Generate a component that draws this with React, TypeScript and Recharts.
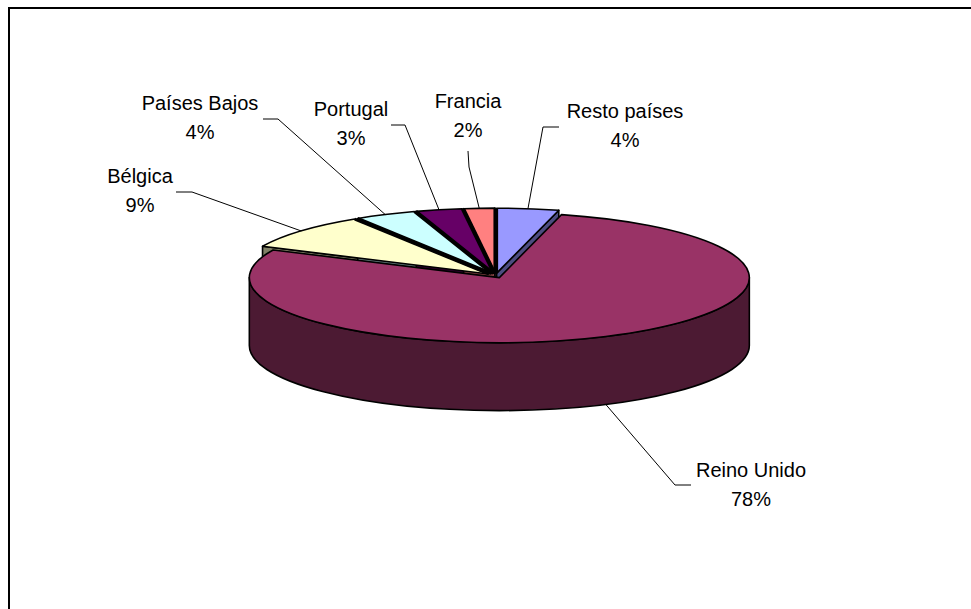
import { PieChart, Pie, Cell } from 'recharts'

// back slices first, Reino Unido last so its rim stays in front
const paises = ['Bélgica', 'Países Bajos', 'Portugal', 'Francia', 'Resto países', 'Reino Unido']
const porcentajes = [9, 4, 3, 2, 4, 78]
const coloresTapa = ['#ffffcc', '#ccffff', '#660066', '#ff8080', '#9999ff', '#993366']
const coloresLado = ['#808066', '#668080', '#330033', '#804040', '#4c4c80', '#4c1a33']

const data = paises.map((name, i) => ({ name, value: porcentajes[i], lado: coloresLado[i] }))

// label text centre + leader elbow, placed by hand like the original
const etiquetas: Record<string, { x: number; y: number; codo: [number, number]; fin: [number, number] }> = {
  'Resto países': { x: 625, y: 118, codo: [543, 127], fin: [559, 127] },
  'Reino Unido': { x: 751, y: 477, codo: [675, 485], fin: [691, 485] },
  'Bélgica': { x: 140, y: 183, codo: [192, 192], fin: [176, 192] },
  'Países Bajos': { x: 200, y: 110, codo: [278, 119], fin: [263, 119] },
  'Portugal': { x: 351, y: 116, codo: [405, 125], fin: [391, 125] },
  'Francia': { x: 468, y: 108, codo: [469, 167], fin: [468, 151] },
}

const CX = 495.5
const CY = 275.5
const RADIO = 250
const APLASTE = 0.26
const ALTO = 68
const SEPARA = 9
const INICIO = 154.8

const rad = (a: number) => (a * Math.PI) / 180

// recharts angle -> point on the flattened disc
function punto(cx: number, cy: number, r: number, ang: number, mid: number): [number, number] {
  const dx = SEPARA * Math.cos(rad(mid))
  const dy = -SEPARA * APLASTE * Math.sin(rad(mid))
  return [cx + dx + r * Math.cos(rad(ang)), cy + dy - r * APLASTE * Math.sin(rad(ang))]
}

function Tapa(props: any) {
  const { cx, cy, outerRadius: r, startAngle, endAngle, midAngle, fill, payload } = props
  const a = punto(cx, cy, 0, 0, midAngle)
  const p1 = punto(cx, cy, r, startAngle, midAngle)
  const p2 = punto(cx, cy, r, endAngle, midAngle)
  const grande = Math.abs(endAngle - startAngle) > 180 ? 1 : 0
  const d = `M${a[0]},${a[1]} L${p1[0]},${p1[1]} A${r},${r * APLASTE} 0 ${grande} 1 ${p2[0]},${p2[1]} Z`
  // the dividers between the small slices are heavier than the rim
  const idx = paises.indexOf(payload.name)
  const ultimoChico = paises.length - 2
  return (
    <g>
      <path d={d} fill={fill} stroke="#000" strokeWidth={1.6} strokeLinejoin="round" />
      {idx <= ultimoChico && idx > 0 && (
        <line x1={a[0]} y1={a[1]} x2={p1[0]} y2={p1[1]} stroke="#000" strokeWidth={3} />
      )}
      {idx < ultimoChico && <line x1={a[0]} y1={a[1]} x2={p2[0]} y2={p2[1]} stroke="#000" strokeWidth={3} />}
    </g>
  )
}

function Lado(props: any) {
  const { cx, cy, outerRadius: r, startAngle, endAngle, midAngle, payload } = props
  const color = payload.lado
  const a = punto(cx, cy, 0, 0, midAngle)
  const caras: string[] = []
  const cara = (ang: number) => {
    const p = punto(cx, cy, r, ang, midAngle)
    caras.push(`M${a[0]},${a[1]} L${p[0]},${p[1]} L${p[0]},${p[1] + ALTO} L${a[0]},${a[1] + ALTO} Z`)
  }
  // only faces turned towards the viewer
  if (Math.sin(rad(startAngle)) > 0.01 && Math.cos(rad(startAngle)) < 0) cara(startAngle)
  if (Math.sin(rad(endAngle)) > 0.01 && Math.cos(rad(endAngle)) > 0) cara(endAngle)

  // rim: only the part of the arc on the front half
  const tramos: string[] = []
  const lo = Math.max(Math.min(startAngle, endAngle), -180)
  const hi = Math.min(Math.max(startAngle, endAngle), 0)
  if (hi > lo) {
    const p1 = punto(cx, cy, r, hi, midAngle)
    const p2 = punto(cx, cy, r, lo, midAngle)
    const ry = r * APLASTE
    tramos.push(
      `M${p1[0]},${p1[1]} A${r},${ry} 0 0 1 ${p2[0]},${p2[1]} L${p2[0]},${p2[1] + ALTO} A${r},${ry} 0 0 0 ${p1[0]},${p1[1] + ALTO} Z`,
    )
  }
  return (
    <g>
      {[...caras, ...tramos].map((d, i) => (
        <path key={i} d={d} fill={color} stroke="#000" strokeWidth={1.6} strokeLinejoin="round" />
      ))}
    </g>
  )
}

function Etiqueta(props: any) {
  const { cx, cy, outerRadius: r, midAngle, name, percent } = props
  const e = etiquetas[name]
  let p = punto(cx, cy, r, midAngle, midAngle)
  if (Math.sin(rad(midAngle)) < 0) p = [p[0], p[1] + ALTO]
  return (
    <g>
      <polyline
        points={`${p[0]},${p[1]} ${e.codo[0]},${e.codo[1]} ${e.fin[0]},${e.fin[1]}`}
        fill="none"
        stroke="#000"
        strokeWidth={1}
      />
      <text x={e.x} y={e.y} textAnchor="middle" fontFamily="Liberation Sans" fontSize={20} fill="#000">
        {name}
      </text>
      <text x={e.x} y={e.y + 29} textAnchor="middle" fontFamily="Liberation Sans" fontSize={20} fill="#000">
        {`${Math.round(percent * 100)}%`}
      </text>
    </g>
  )
}

export default function App() {
  return (
    <div style={{ position: 'absolute', left: 0, top: 0, width: 971, height: 609, background: '#fff', overflow: 'hidden' }}>
      <div
        style={{
          position: 'absolute',
          left: 8,
          top: 7,
          width: 970,
          height: 700,
          borderTop: '2px solid #000',
          borderLeft: '2px solid #000',
        }}
      />
      <div style={{ position: 'absolute', left: 0, top: 0 }}>
        <PieChart width={971} height={609} margin={{ top: 0, right: 0, bottom: 0, left: 0 }}>
          <Pie
            data={data}
            dataKey="value"
            nameKey="name"
            cx={CX}
            cy={CY}
            outerRadius={RADIO}
            startAngle={INICIO}
            endAngle={INICIO - 360}
            paddingAngle={0}
            isAnimationActive={false}
            shape={Lado}
            label={false}
            labelLine={false}
          />
          <Pie
            data={data}
            dataKey="value"
            nameKey="name"
            cx={CX}
            cy={CY}
            outerRadius={RADIO}
            startAngle={INICIO}
            endAngle={INICIO - 360}
            paddingAngle={0}
            isAnimationActive={false}
            shape={Tapa}
            label={Etiqueta}
            labelLine={false}
          >
            {paises.map((n, i) => (
              <Cell key={n} fill={coloresTapa[i]} />
            ))}
          </Pie>
        </PieChart>
      </div>
    </div>
  )
}
